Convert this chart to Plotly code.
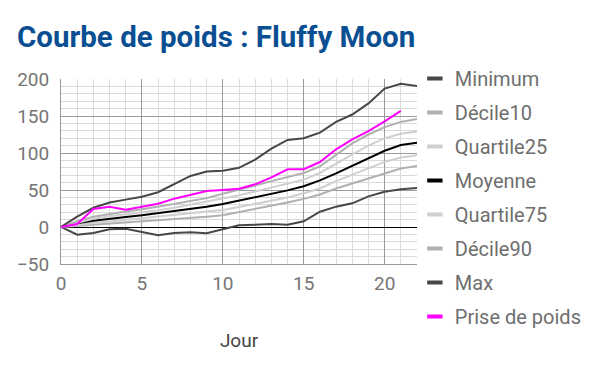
import plotly.graph_objects as go

days = list(range(0, 23))
minimum = [0, -10.4, -8, -3, -2.3, -6.3, -11, -8, -7, -8.5, -3, 2.2, 3, 4, 3, 7.7, 20.7, 27.5, 32, 41.4, 47.7, 51, 52.7]
decile10 = [0, 1.5, 3, 4, 5.5, 7, 8.5, 10, 12, 14, 16, 20, 24, 28, 33, 38, 44, 52, 59, 66, 73, 79, 82.5]
quartile25 = [0, 3, 5.5, 7.5, 9.5, 11.5, 13.5, 16, 18.5, 21, 23, 27, 31, 35, 40, 45.5, 52, 62, 71, 80, 88, 94, 97]
moyenne = [0, 5, 8.5, 11.3, 13.5, 15.8, 18.5, 21.6, 24.7, 27.5, 31, 35.6, 40, 44.6, 49.5, 55, 63, 72.5, 82.5, 93, 103, 110.8, 114]
quartile75 = [0, 6, 11, 14.5, 17, 19.5, 22.5, 26, 30, 34, 39, 43, 48, 53, 58, 64, 73, 86, 98, 110, 120, 126, 129]
decile90 = [0, 8, 14, 18, 21, 24, 27, 31, 35, 39, 45, 50, 56, 62, 68, 73, 82, 98, 113, 125, 135, 142, 146]
maximum = [0, 14, 26, 33, 37, 41, 47, 58, 69, 75, 76, 80, 91, 106, 117.6, 120, 127.5, 142, 152, 167, 187, 193.6, 190.5]
prise_days = list(range(0, 22))
prise = [0, 4, 24.3, 27.5, 23.4, 27, 31.5, 38.3, 43, 48.6, 50, 51.8, 57.7, 67, 78, 78, 87.8, 105, 118.5, 129.7, 142.8, 157]

series = [
    ("Minimum", days, minimum, "#474747", 2),
    ("Décile10", days, decile10, "#b0b0b0", 2),
    ("Quartile25", days, quartile25, "#cfcfcf", 2),
    ("Moyenne", days, moyenne, "#000000", 2),
    ("Quartile75", days, quartile75, "#cfcfcf", 2),
    ("Décile90", days, decile90, "#b0b0b0", 2),
    ("Max", days, maximum, "#474747", 2),
    ("Prise de poids", prise_days, prise, "#ff00ff", 2),
]

fig = go.Figure()
for name, xs, ys, color, w in series:
    fig.add_trace(go.Scatter(x=xs, y=ys, mode="lines", name=name,
                             line=dict(color=color, width=w),
                             showlegend=False, hoverinfo="skip"))
for i, (name, xs, ys, color, w) in enumerate(series):
    fig.add_trace(go.Scatter(x=[None], y=[None], mode="markers", name=name,
                             legendgroup=name,
                             marker=dict(symbol="line-ew", size=11,
                                         line=dict(color=color, width=4))))

fig.update_layout(
    width=600, height=371,
    margin=dict(l=53, r=191, t=71, b=115, autoexpand=False),
    paper_bgcolor="white", plot_bgcolor="white",
    font=dict(family="Roboto", color="#757575"),
    title=dict(text="<b>Courbe de poids : Fluffy Moon</b>", x=0.015, xanchor="left",
               y=0.951, yanchor="top",
               font=dict(family="Roboto", size=29.5, color="#0b4f93")),
    legend=dict(x=0.994, xanchor="left", y=1.108, yanchor="top",
                font=dict(family="Roboto", size=20, color="#6e6e6e"),
                traceorder="grouped", tracegroupgap=5, itemwidth=30,
                maxheight=320, bgcolor="rgba(0,0,0,0)"),
    showlegend=True,
)
fig.update_xaxes(range=[0, 22], dtick=5, tick0=0, showgrid=True, gridcolor="#9a9a9a",
                 gridwidth=1, minor=dict(dtick=1, showgrid=True, gridcolor="#dadada"),
                 showline=True, linecolor="#9a9a9a", zeroline=False, automargin=False,
                 ticks="", ticklabelstandoff=2, tickfont=dict(size=19, color="#757575"),
                 title=dict(text="Jour", font=dict(size=19, color="#444444"), standoff=39))
fig.update_yaxes(range=[-50, 200], dtick=50, tick0=0, showgrid=True, gridcolor="#9a9a9a",
                 gridwidth=1, minor=dict(dtick=10, showgrid=True, gridcolor="#dadada"),
                 showline=True, linecolor="#9a9a9a", zeroline=True, zerolinecolor="#000000",
                 zerolinewidth=1, automargin=False, ticks="", ticklabelstandoff=7,
                 tickfont=dict(size=19, color="#757575"))

fig.write_html("out.html")
